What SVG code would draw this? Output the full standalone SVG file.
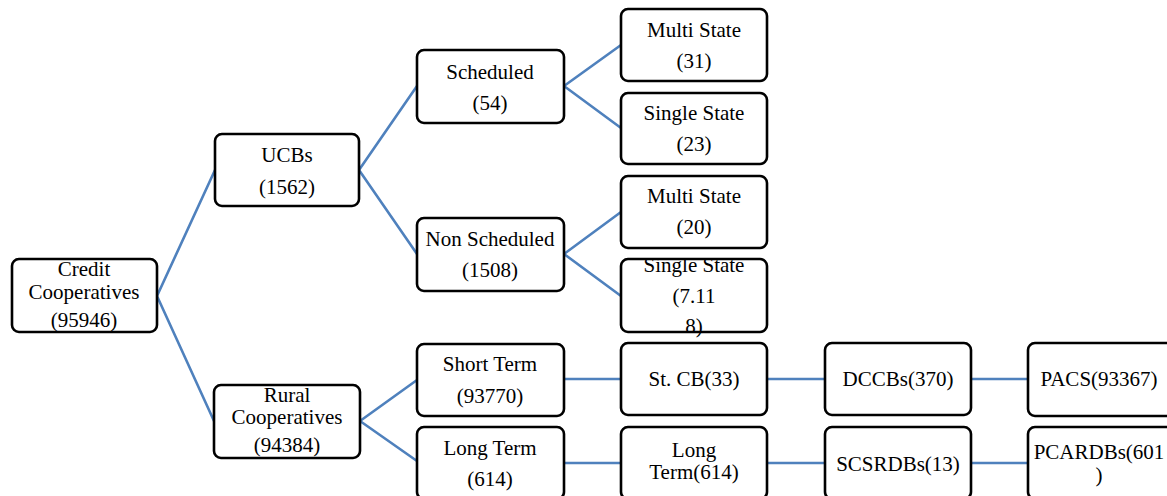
<svg xmlns="http://www.w3.org/2000/svg" width="1167" height="496" viewBox="0 0 1167 496">
<style>
.b{fill:#fff;stroke:#000;stroke-width:2.6}
.t{font-family:"Liberation Serif","Times New Roman",serif;font-size:21px;fill:#000;text-anchor:middle}
.c{stroke:#4f81bd;stroke-width:2.6;fill:none}
</style>
<rect width="1167" height="496" fill="#fff"/>
<g id="connectors">
<path class="c" d="M157 296L215 170M157 296L214 421M359 170L417 86M359 170L417 254M564 86L621 45M564 86L621 128M564 254L621 212M564 254L621 296M360 421L417 380M360 421L417 461M564 379H621M767 379H825M971 379H1028M564 463H621M767 463H825M971 463H1028"/>
</g>
<g id="credit"><rect class="b" x="12" y="259" width="145" height="73" rx="7"/><text class="t" x="84" y="276">Credit</text><text class="t" x="84" y="299">Cooperatives</text><text class="t" x="84" y="327">(95946)</text></g>
<g id="ucbs"><rect class="b" x="215" y="134" width="144" height="72" rx="7"/><text class="t" x="287" y="162">UCBs</text><text class="t" x="287" y="194">(1562)</text></g>
<g id="rural"><rect class="b" x="214" y="385" width="146" height="73" rx="7"/><text class="t" x="287" y="402">Rural</text><text class="t" x="287" y="424">Cooperatives</text><text class="t" x="287" y="452">(94384)</text></g>
<g id="scheduled"><rect class="b" x="417" y="50" width="147" height="73" rx="7"/><text class="t" x="490" y="79">Scheduled</text><text class="t" x="490" y="110">(54)</text></g>
<g id="nonscheduled"><rect class="b" x="417" y="218" width="147" height="73" rx="7"/><text class="t" x="490" y="246">Non Scheduled</text><text class="t" x="490" y="277">(1508)</text></g>
<g id="shortterm"><rect class="b" x="417" y="344" width="147" height="72" rx="7"/><text class="t" x="490" y="371">Short Term</text><text class="t" x="490" y="403">(93770)</text></g>
<g id="longterm"><rect class="b" x="417" y="427" width="147" height="72" rx="7"/><text class="t" x="490" y="455">Long Term</text><text class="t" x="490" y="486">(614)</text></g>
<g id="multi1"><rect class="b" x="621" y="9" width="146" height="72" rx="7"/><text class="t" x="694" y="37">Multi State</text><text class="t" x="694" y="68">(31)</text></g>
<g id="single1"><rect class="b" x="621" y="93" width="146" height="71" rx="7"/><text class="t" x="694" y="120">Single State</text><text class="t" x="694" y="151">(23)</text></g>
<g id="multi2"><rect class="b" x="621" y="176" width="146" height="72" rx="7"/><text class="t" x="694" y="203">Multi State</text><text class="t" x="694" y="234">(20)</text></g>
<g id="single2"><rect class="b" x="621" y="259" width="146" height="73" rx="7"/><text class="t" x="694" y="272">Single State</text><text class="t" x="694" y="303">(7.11</text><text class="t" x="694" y="333">8)</text></g>
<g id="stcb"><rect class="b" x="621" y="343" width="146" height="72" rx="7"/><text class="t" x="694" y="386">St. CB(33)</text></g>
<g id="longterm2"><rect class="b" x="621" y="427" width="146" height="72" rx="7"/><text class="t" x="694" y="457">Long</text><text class="t" x="694" y="479">Term(614)</text></g>
<g id="dccbs"><rect class="b" x="825" y="343" width="146" height="72" rx="7"/><text class="t" x="898" y="386">DCCBs(370)</text></g>
<g id="scsrdbs"><rect class="b" x="825" y="427" width="146" height="72" rx="7"/><text class="t" x="898" y="471">SCSRDBs(13)</text></g>
<g id="pacs"><rect class="b" x="1028" y="343" width="146" height="73" rx="7"/><text class="t" x="1099" y="386">PACS(93367)</text></g>
<g id="pcardbs"><rect class="b" x="1028" y="427" width="146" height="72" rx="7"/><text class="t" x="1099" y="459">PCARDBs(601</text><text class="t" x="1099" y="482">)</text></g>
</svg>
